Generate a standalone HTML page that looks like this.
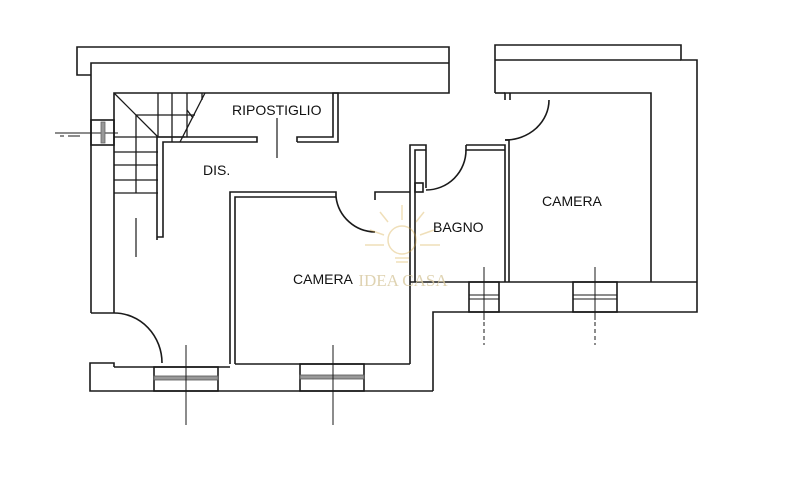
<!DOCTYPE html>
<html><head><style>html,body{margin:0;padding:0;background:#fff}svg{display:block}</style></head>
<body>
<svg width="800" height="490" viewBox="0 0 800 490" xmlns="http://www.w3.org/2000/svg">
<g fill="none" stroke="#1a1a1a" stroke-width="1.6">
<polyline points="91,75 77,75 77,47 449,47 449,93 114,93 114,313"/>
<polyline points="91,313 91,63 449,63"/>
<line x1="91" y1="313" x2="114" y2="313"/>
<rect x="91" y="120" width="23" height="25"/>
<line x1="55" y1="133" x2="118" y2="133" stroke-width="1"/>
<line x1="60" y1="136" x2="64" y2="136" stroke-width="1"/>
<line x1="68" y1="136" x2="80" y2="136" stroke-width="1"/>
<rect x="101" y="122" width="4" height="21" fill="#999" stroke="#666" stroke-width="0.8"/>
<g stroke-width="1.3">
<line x1="114" y1="93" x2="158" y2="137"/>
<line x1="205" y1="93" x2="180" y2="142"/>
<line x1="187" y1="110" x2="193" y2="118"/>
<line x1="158" y1="93" x2="158" y2="137"/>
<line x1="172" y1="93" x2="172" y2="142"/>
<line x1="187" y1="93" x2="187" y2="137"/>
<line x1="202" y1="93" x2="202" y2="100"/>
<line x1="136" y1="115" x2="195" y2="115"/>
<line x1="136" y1="115" x2="136" y2="193"/>
<line x1="114" y1="137" x2="185" y2="137"/>
<line x1="114" y1="152" x2="158" y2="152"/>
<line x1="114" y1="165" x2="158" y2="165"/>
<line x1="114" y1="180" x2="158" y2="180"/>
<line x1="114" y1="193" x2="158" y2="193"/>
</g>
<polyline points="157,240 157,137 257,137 257,142 163,142 163,237 157,237"/>
<polyline points="297,142 297,137 333,137 333,93 338,93 338,142 297,142"/>
<line x1="277" y1="118" x2="277" y2="158" stroke-width="1.2"/>
<line x1="136" y1="218" x2="136" y2="257" stroke-width="1.2"/>
<polyline points="230,364 230,192 336,192 336,197 235,197 235,364"/>
<path d="M336,197 A40,40 0 0 0 375,232"/>
<polyline points="375,200 375,192 410,192"/>
<polyline points="410,364 410,145 426,145 426,188"/>
<polyline points="415,282 415,150 426,150"/>
<rect x="415" y="183" width="8" height="9"/>
<path d="M466,150 A40,40 0 0 1 426,190"/>
<polyline points="466,145 505,145 505,282"/>
<polyline points="466,145 466,150 505,150"/>
<line x1="509" y1="140" x2="509" y2="282"/>
<line x1="505" y1="140" x2="509" y2="140"/>
<path d="M549,100 A44,40 0 0 1 505,140"/>
<polyline points="495,93 495,45 681,45 681,60 697,60 697,312 433,312 433,391"/>
<line x1="495" y1="60" x2="681" y2="60"/>
<polyline points="505,100 505,93 651,93 651,282"/>
<line x1="495" y1="93" x2="505" y2="93"/>
<line x1="510" y1="93" x2="510" y2="100"/>
<line x1="410" y1="282" x2="697" y2="282"/>
<rect x="469" y="282" width="30" height="30"/>
<rect x="573" y="282" width="44" height="30"/>
<line x1="469" y1="295" x2="499" y2="295" stroke-width="1"/>
<line x1="469" y1="299" x2="499" y2="299" stroke-width="1"/>
<line x1="573" y1="295" x2="617" y2="295" stroke-width="1"/>
<line x1="573" y1="299" x2="617" y2="299" stroke-width="1"/>
<line x1="484" y1="267" x2="484" y2="320" stroke-width="1"/>
<line x1="595" y1="267" x2="595" y2="320" stroke-width="1"/>
<line x1="484" y1="322" x2="484" y2="345" stroke-width="1" stroke-dasharray="4,3"/>
<line x1="595" y1="322" x2="595" y2="345" stroke-width="1" stroke-dasharray="4,3"/>
<path d="M114,313 A48,50 0 0 1 162,363"/>
<polyline points="114,367 114,363 90,363 90,391 433,391"/>
<line x1="114" y1="367" x2="230" y2="367"/>
<line x1="235" y1="364" x2="410" y2="364"/>
<rect x="154" y="367" width="64" height="24"/>
<rect x="300" y="364" width="64" height="27"/>
<rect x="154" y="376" width="64" height="4" fill="#999" stroke="#555" stroke-width="0.8"/>
<rect x="300" y="375" width="64" height="4" fill="#999" stroke="#555" stroke-width="0.8"/>
<line x1="186" y1="345" x2="186" y2="425" stroke-width="1"/>
<line x1="333" y1="345" x2="333" y2="425" stroke-width="1"/>
</g>
<g opacity="0.35" stroke="#d4a53a" fill="none" stroke-width="1.5">
<circle cx="402" cy="240" r="14"/>
<line x1="395" y1="258" x2="409" y2="258"/><line x1="396" y1="262" x2="408" y2="262"/>
<line x1="402" y1="205" x2="402" y2="220"/><line x1="380" y1="212" x2="388" y2="222"/><line x1="424" y1="212" x2="416" y2="222"/>
<line x1="370" y1="230" x2="384" y2="235"/><line x1="434" y1="230" x2="420" y2="235"/>
<line x1="365" y1="245" x2="384" y2="245"/><line x1="440" y1="245" x2="420" y2="245"/>
</g>
<text x="403" y="286" text-anchor="middle" font-family="Liberation Serif, serif" font-size="17" fill="#d8c9a0" opacity="0.8">IDEA CASA</text>
<g font-family="Liberation Sans, sans-serif" font-size="14" fill="#111">
<text x="232" y="115">RIPOSTIGLIO</text>
<text x="203" y="175">DIS.</text>
<text x="293" y="284">CAMERA</text>
<text x="433" y="232">BAGNO</text>
<text x="542" y="206">CAMERA</text>
</g>
</svg>
</body></html>
